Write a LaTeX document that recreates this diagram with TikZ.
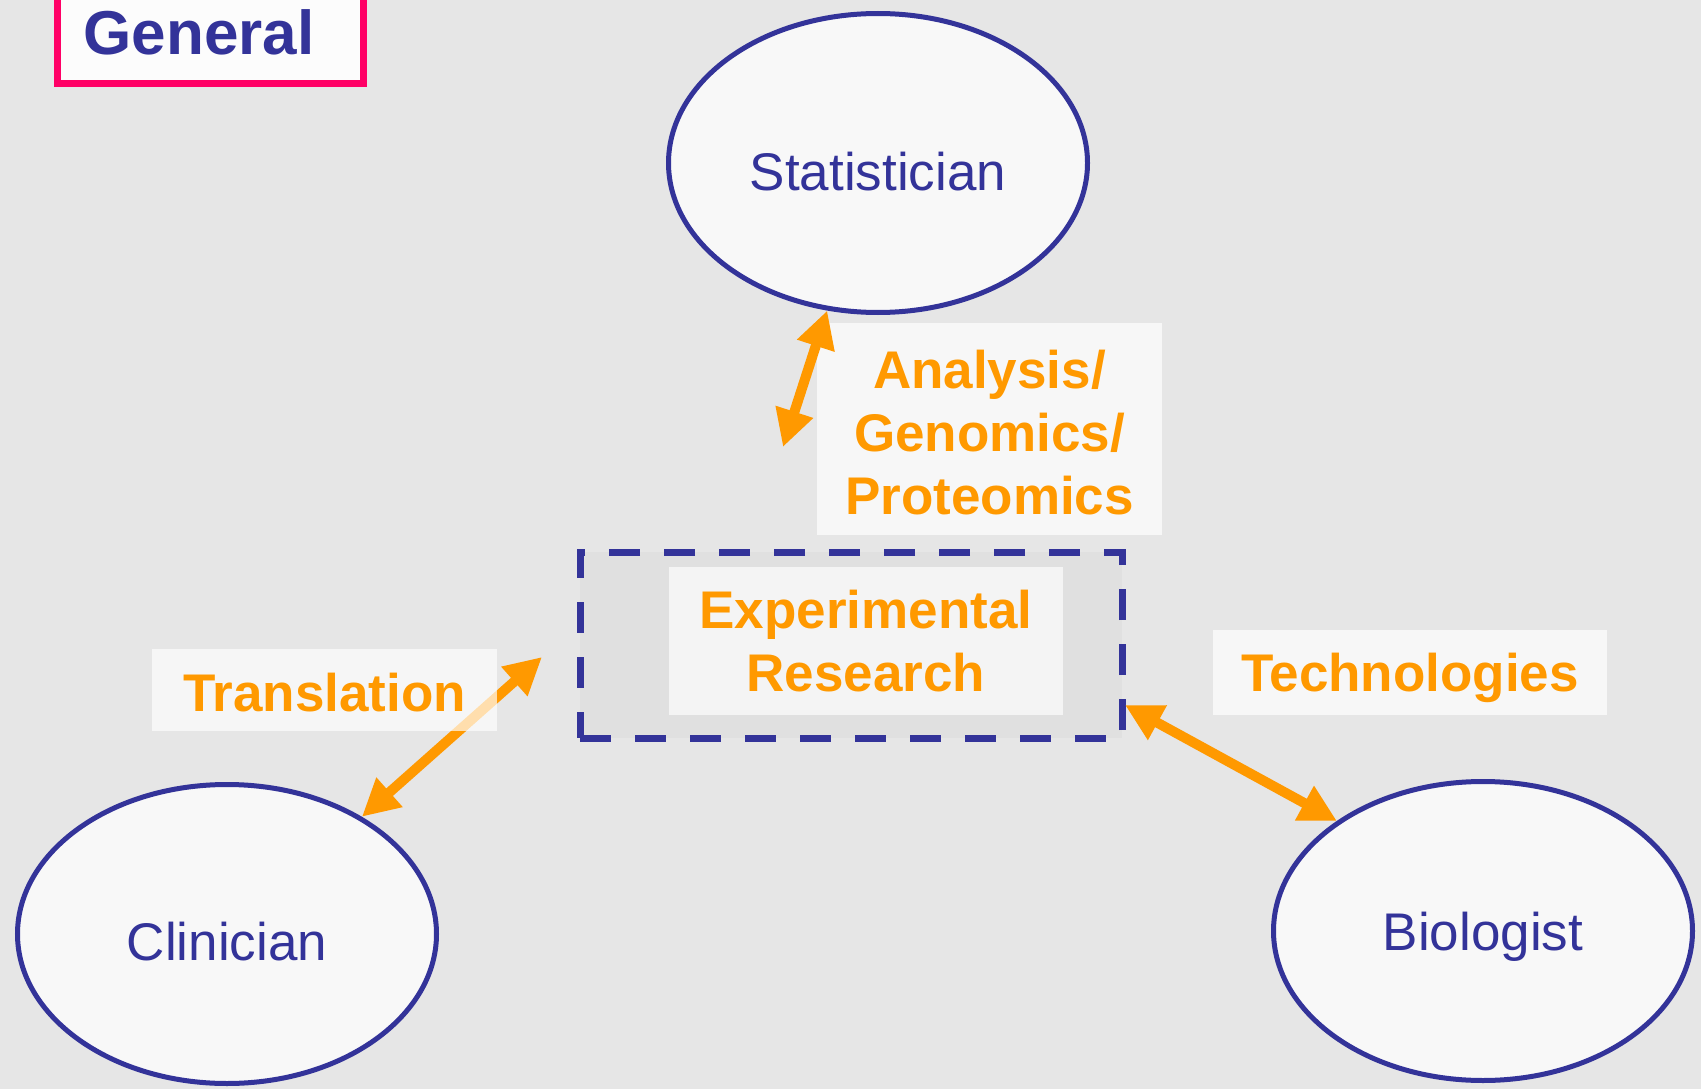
\documentclass[tikz,border=0pt]{standalone}
\usepackage{fontspec}
\setmainfont{Liberation Sans}
\usetikzlibrary{arrows.meta,shapes.geometric}
\definecolor{bg}{HTML}{E6E6E6}
\definecolor{navy}{HTML}{333399}
\definecolor{orng}{HTML}{FF9900}
\definecolor{pinkred}{HTML}{FF0066}
\definecolor{ellfill}{HTML}{F8F8F8}
\definecolor{boxfill}{HTML}{F7F7F7}
\definecolor{rectfill}{HTML}{E0E0E0}
\definecolor{expfill}{HTML}{F4F4F4}
\definecolor{gfill}{HTML}{FCFCFC}
\begin{document}
\begin{tikzpicture}[x=1pt,y=-1pt,
  role/.style={ellipse, draw=navy, line width=5pt, fill=ellfill,
    minimum width=419pt, minimum height=299pt, inner sep=0pt, text=navy,
    font=\fontsize{53}{63}\selectfont, text depth=0pt},
  lbl/.style={fill=boxfill, text=orng, font=\bfseries\fontsize{53}{63}\selectfont,
    align=center, inner sep=0pt},
  link/.style={draw=orng, line width=10pt,
    {Triangle[length=37pt,width=37pt]}-{Triangle[length=37pt,width=37pt]}},
]
\fill[bg] (0,0) rectangle (1701,1089);
\useasboundingbox (0,0) rectangle (1701,1089);

% General tag
\node[draw=pinkred, line width=7pt, fill=gfill, minimum width=306pt,
  minimum height=124pt, inner sep=0pt] (gbox) at (210.5,21.5) {};
\node[anchor=base, text=navy, font=\bfseries\fontsize{62}{70}\selectfont,
  inner sep=0pt] (gtext) at (199,55) {General};

% roles
\node[role, text height=54pt] (stat) at (878,163) {Statistician};
\node[lbl, minimum width=345pt, minimum height=212pt, text height=170pt, text depth=0pt]
  (ana) at (989.5,429) {Analysis/\\Genomics/\\Proteomics};
\node[role, text height=52pt] (clin) at (227,934) {Clinician};
\node[role, text height=38pt] (bio) at (1483,931) {Biologist};

% central area
\node[draw=navy, line width=7pt, dash pattern=on 31pt off 24pt, fill=rectfill,
  minimum width=542pt, minimum height=186pt, inner sep=0pt] (area) at (851,645) {};
\node[lbl, fill=expfill, minimum width=394pt, minimum height=148pt] (exp) at (866,641)
  {Experimental\\Research};

% connectors
\coordinate (sfree) at (783,447);
\coordinate (tfree) at (542,657);
\coordinate (afree) at (1125,705);
\draw[link] (sfree) -- (stat.-109);
\draw[link] (afree) -- (bio.143.4);
\node[lbl, minimum width=394pt, minimum height=85pt, text height=38pt, text depth=0pt]
  (tech) at (1410,672.5) {Technologies};
\draw[link] (tfree) -- (clin.41.6);
\node[lbl, fill=white, fill opacity=0.68, text opacity=1, minimum width=345pt,
  minimum height=82pt, text height=42pt, text depth=0pt] (trans) at (324.5,690) {Translation};
\end{tikzpicture}
\end{document}
